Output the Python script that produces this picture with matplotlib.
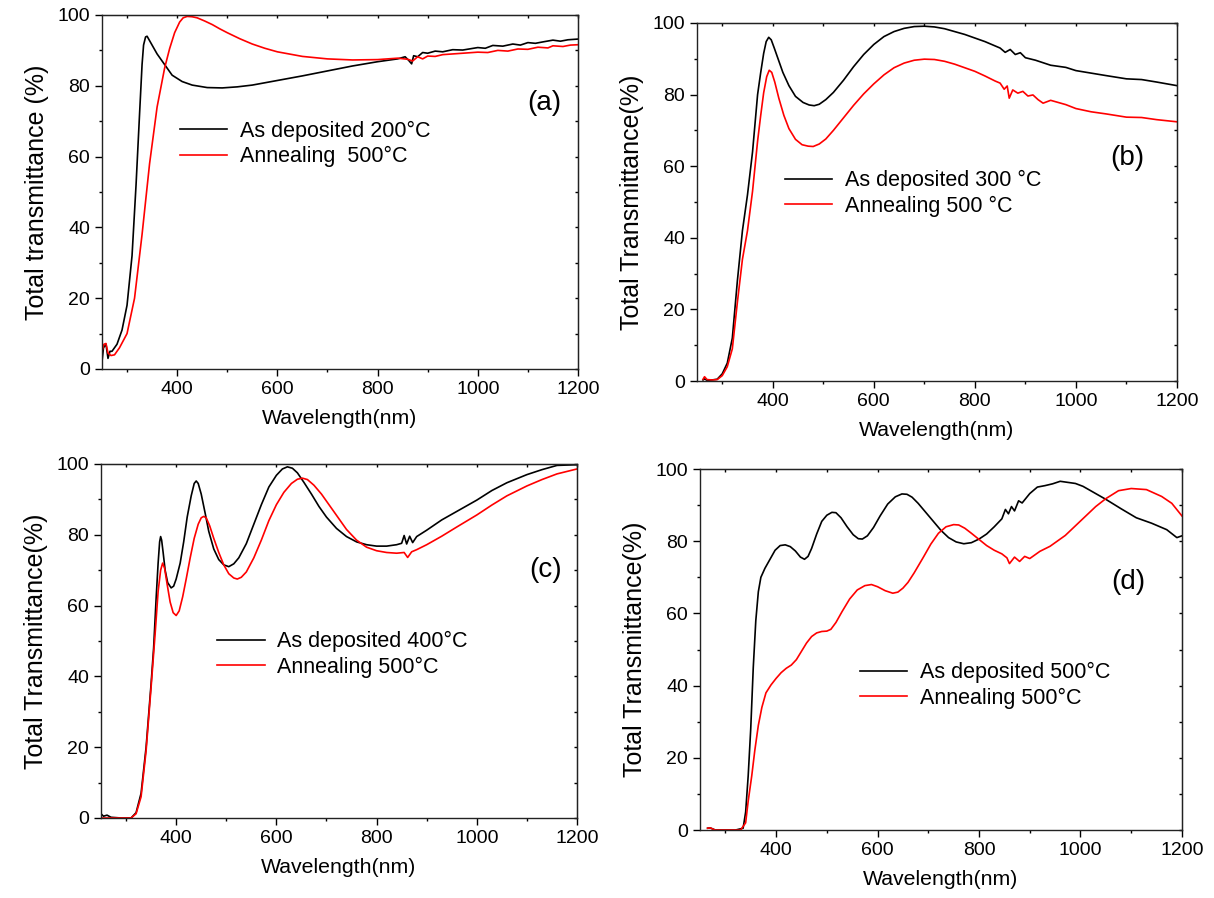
import matplotlib
matplotlib.use("Agg")
import matplotlib.pyplot as plt
from matplotlib.ticker import MultipleLocator

plt.rcParams['font.family'] = ['Liberation Sans', 'DejaVu Sans']

# ---- panel (a): as deposited 200 C / annealed 500 C ----
wl_a_dep = [250, 253, 258, 262, 266, 270, 280, 290, 300, 310, 318, 325, 330, 333, 337, 340,
            344, 350, 360, 375, 390, 410, 430, 460, 490, 520, 550, 600, 650, 700, 750, 800,
            840, 855, 862, 868, 872, 880, 890, 900, 915, 930, 950, 970, 1000, 1015, 1030,
            1050, 1070, 1085, 1100, 1115, 1130, 1150, 1165, 1180, 1200]
t_a_dep = [2, 6, 7, 3, 5, 5, 7, 11, 18, 32, 52, 72, 86, 91.5, 93.8, 94,
           93, 91.5, 89, 86, 83, 81.2, 80.2, 79.5, 79.4, 79.7, 80.2, 81.5, 82.8, 84.2, 85.6, 86.8,
           87.6, 88.2, 87.2, 86.2, 88.5, 88.2, 89.4, 89.2, 89.8, 89.6, 90.2, 90.1, 90.8, 90.6, 91.4,
           91.2, 91.8, 91.5, 92.2, 92.0, 92.4, 92.9, 92.6, 93.0, 93.2]
wl_a_ann = [250, 254, 258, 262, 268, 275, 285, 300, 315, 330, 345, 360, 375, 385, 395, 405,
            412, 420, 430, 440, 455, 470, 485, 500, 525, 550, 575, 600, 650, 700, 750, 800,
            840, 860, 870, 880, 890, 900, 915, 930, 960, 1000, 1020, 1040, 1060, 1080, 1100,
            1120, 1140, 1150, 1170, 1185, 1200]
t_a_ann = [5, 7, 7.2, 4.5, 3.8, 4, 6, 10, 20, 38, 58, 74, 85, 90.5, 95, 98,
           99.2, 99.6, 99.5, 99.2, 98.3, 97.3, 96.1, 95, 93.3, 91.8, 90.6, 89.6, 88.3, 87.6, 87.3, 87.4,
           87.8, 87.5, 87, 88.2, 87.6, 88.4, 88.3, 88.8, 89.1, 89.5, 89.4, 90, 89.8, 90.4, 90.3,
           90.9, 90.7, 91.3, 91.1, 91.5, 91.6]

# ---- panel (b): as deposited 300 C / annealed 500 C ----
wl_b_dep = [262, 265, 270, 280, 290, 300, 310, 320, 330, 340, 350, 360, 370, 376, 382, 387,
            392, 397, 403, 410, 420, 432, 445, 460, 472, 482, 492, 505, 520, 540, 560, 580,
            600, 620, 640, 660, 680, 700, 720, 740, 760, 780, 800, 820, 840, 850, 860,
            870, 880, 890, 900, 920, 950, 980, 1000, 1030, 1060, 1100, 1130, 1160, 1200]
t_b_dep = [0.3, 0.6, 0.2, 0.3, 0.5, 2, 5, 12, 28, 42, 52, 64, 80, 86, 91.5, 94.8,
           96, 95.3, 93, 90.2, 86.2, 82.5, 79.5, 77.8, 77.1, 76.9, 77.3, 78.6, 80.6, 84, 87.8, 91.2,
           94, 96.2, 97.6, 98.5, 99, 99.1, 98.9, 98.4, 97.6, 96.8, 95.8, 94.8, 93.6, 93, 91.8,
           92.6, 91.2, 91.7, 90.3, 89.6, 88.2, 87.6, 86.7, 86, 85.3, 84.4, 84.2, 83.5, 82.5]
wl_b_ann = [262, 265, 270, 280, 290, 300, 310, 320, 330, 340, 350, 360, 370, 376, 382, 388,
            393, 398, 404, 412, 422, 432, 445, 458, 470, 480, 492, 505, 520, 540, 560, 580,
            600, 620, 640, 660, 680, 700, 720, 740, 760, 780, 800, 820, 840, 850, 858,
            864, 868, 875, 885, 895, 905, 915, 925, 935, 950, 980, 1000, 1030, 1060, 1100,
            1130, 1160, 1200]
t_b_ann = [0.5, 1.2, 0.4, 0.3, 0.4, 1.5, 4, 9, 22, 34, 42, 53, 67, 74, 80.5, 85,
           86.8, 86.2, 83.5, 79, 74.2, 70.5, 67.5, 66, 65.6, 65.5, 66.2, 67.6, 70, 73.5, 77, 80.2,
           83, 85.5, 87.5, 88.8, 89.6, 89.9, 89.8, 89.3, 88.5, 87.5, 86.5, 85.2, 83.8, 83.2, 81.5,
           82.4, 79, 81.3, 80.4, 80.9, 79.6, 79.9, 78.6, 77.6, 78.4, 77.2, 76.1, 75.2, 74.6, 73.7,
           73.6, 73, 72.4]

# ---- panel (c): as deposited 400 C / annealed 500 C ----
wl_c_dep = [250, 255, 262, 270, 290, 310, 320, 330, 340, 350, 355, 360, 364, 367, 369, 371,
            374, 378, 383, 390, 395, 400, 408, 415, 422, 430, 436, 440, 444, 450, 458, 465,
            475, 485, 495, 505, 515, 525, 540, 555, 570, 585, 600, 612, 622, 632, 642, 655,
            670, 685, 700, 720, 740, 760, 780, 800, 820, 840, 850, 855, 860, 866, 872, 880,
            900, 930, 960, 1000, 1030, 1060, 1100, 1130, 1160, 1200]
t_c_dep = [1.2, 0.5, 0.8, 0.2, 0, 0, 1.5, 7, 20, 38, 48, 62, 72, 78, 79.5, 78.5,
           75, 70, 66.5, 65, 65.5, 67.5, 72, 78, 85, 91, 94.5, 95.2, 94.5, 91.5, 86, 81,
           76, 73, 71.5, 71, 71.8, 73.5, 77.5, 83, 88.5, 93.5, 96.8, 98.6, 99.2, 98.8, 97.5, 94.8,
           91.5, 88, 85, 81.8, 79.5, 78, 77.2, 76.8, 76.8, 77.2, 77.6, 79.8, 77.4, 79.6, 77.8, 79.5,
           81.3, 84.2, 86.6, 89.8, 92.5, 94.7, 97, 98.4, 99.6, 99.8]
wl_c_ann = [250, 270, 290, 310, 320, 330, 340, 350, 358, 364, 369, 373, 377, 382, 388, 394,
            400, 406, 413, 420, 428, 436, 444, 450, 455, 460, 467, 475, 485, 495, 505, 515,
            522, 530, 540, 555, 570, 585, 600, 615, 630, 642, 652, 662, 675, 690, 705, 720,
            740, 760, 780, 800, 820, 840, 855, 862, 870, 880, 900, 930, 960, 1000, 1030, 1060,
            1100, 1130, 1160, 1200]
t_c_ann = [0, 0, 0, 0, 1.2, 6, 19, 37, 52, 64, 70, 72, 70.5, 66, 61, 58,
           57.2, 58.5, 62.5, 67.5, 73.5, 79, 83, 84.8, 85.2, 84.8, 82.5, 79, 75, 71.5, 69, 67.8,
           67.5, 68, 69.5, 73.5, 78.5, 84, 88.5, 92, 94.5, 95.7, 96, 95.6, 94, 91.5, 88.5, 85.5,
           81.5, 78.5, 76.5, 75.5, 75, 74.8, 75, 73.6, 75.2, 75.8, 77.2, 79.6, 82.2, 85.6, 88.4, 91,
           93.8, 95.6, 97.2, 98.6]

# ---- panel (d): as deposited 500 C / annealed 500 C ----
wl_d_dep = [265, 270, 280, 300, 320, 335, 340, 345, 350, 355, 360, 365, 370, 378, 388, 398,
            408, 418, 428, 438, 448, 456, 463, 470, 480, 490, 500, 510, 518, 528, 540, 552,
            562, 570, 580, 592, 605, 620, 635, 648, 658, 668, 680, 695, 710, 725, 740, 755,
            770, 785, 800, 815, 830, 845, 852, 858, 864, 870, 878, 885, 900, 915, 930, 945,
            960, 975, 990, 1005, 1020, 1050, 1080, 1110, 1140, 1170, 1190, 1200]
t_d_dep = [0.5, 0.6, 0, 0, 0, 0.5, 5, 15, 28, 45, 58, 66, 70, 72.5, 75, 77.5,
           78.8, 79, 78.5, 77.3, 75.6, 75, 75.8, 78, 82, 85.5, 87.2, 88, 87.9, 86.5, 84, 81.8,
           80.7, 80.6, 81.5, 83.8, 87, 90.3, 92.3, 93.1, 93, 92.2, 90.5, 88, 85.5, 83, 81, 79.8,
           79.3, 79.6, 80.6, 82, 84, 86.2, 88.8, 87.6, 89.6, 88.4, 91.2, 90.6, 93.2, 95, 95.4, 95.9,
           96.6, 96.3, 96, 95.2, 94, 91.6, 89, 86.5, 85, 83.2, 81, 81.5]
wl_d_ann = [265, 270, 280, 300, 330, 340, 345, 352, 358, 365, 372, 380, 390, 400, 410, 420,
            430, 440, 450, 460, 470, 480, 490, 500, 508, 518, 530, 545, 560, 575, 588, 600,
            615, 630, 640, 650, 660, 672, 690, 705, 720, 735, 750, 760, 772, 785, 800, 815,
            830, 845, 855, 860, 870, 880, 890, 900, 920, 940, 970, 1000, 1030, 1050, 1075, 1100,
            1130, 1160, 1180, 1200]
t_d_ann = [0.5, 0.6, 0, 0, 0, 2, 8, 15, 22, 29, 34, 38, 40.2, 42, 43.6, 44.8,
           45.7, 47.2, 49.5, 51.8, 53.6, 54.6, 55, 55.1, 55.6, 57.5, 60.5, 64, 66.5, 67.7, 68, 67.4,
           66.3, 65.6, 65.9, 67, 68.6, 71.2, 75.5, 79.2, 82.2, 84, 84.6, 84.5, 83.6, 82.2, 80.5, 78.8,
           77.5, 76.5, 75.4, 73.8, 75.6, 74.4, 75.8, 75.2, 77.2, 78.6, 81.6, 85.6, 89.6, 91.8, 94, 94.6,
           94.3, 92.4, 90.5, 87]

panels = [
    dict(pos=[0.0840, 0.5891, 0.3921, 0.3942], dep=(wl_a_dep, t_a_dep), ann=(wl_a_ann, t_a_ann),
         labels=['As deposited 200°C', 'Annealing  500°C'], ylabel='Total transmittance (%)',
         leg=(0.164, 0.636), tag='(a)', tagpos=(0.93, 0.75)),
    dict(pos=[0.5741, 0.5757, 0.3954, 0.3987], dep=(wl_b_dep, t_b_dep), ann=(wl_b_ann, t_b_ann),
         labels=['As deposited 300 °C', 'Annealing 500 °C'], ylabel='Total Transmittance(%)',
         leg=(0.183, 0.524), tag='(b)', tagpos=(0.896, 0.623)),
    dict(pos=[0.0832, 0.0891, 0.3921, 0.3942], dep=(wl_c_dep, t_c_dep), ann=(wl_c_ann, t_c_ann),
         labels=['As deposited 400°C', 'Annealing 500°C'], ylabel='Total Transmittance(%)',
         leg=(0.244, 0.462), tag='(c)', tagpos=(0.933, 0.70)),
    dict(pos=[0.5766, 0.0757, 0.3970, 0.4020], dep=(wl_d_dep, t_d_dep), ann=(wl_d_ann, t_d_ann),
         labels=['As deposited 500°C', 'Annealing 500°C'], ylabel='Total Transmittance(%)',
         leg=(0.332, 0.40), tag='(d)', tagpos=(0.888, 0.687)),
]

fig = plt.figure(figsize=(12.14, 8.98), dpi=100)

for p in panels:
    ax = fig.add_axes(p['pos'])
    ax.plot(*p['dep'], color='black', lw=1.2, label=p['labels'][0])
    ax.plot(*p['ann'], color='#ff0000', lw=1.2, label=p['labels'][1])
    ax.set_xlim(250, 1200)
    ax.set_ylim(0, 100)
    ax.xaxis.set_major_locator(MultipleLocator(200))
    ax.xaxis.set_minor_locator(MultipleLocator(100))
    ax.yaxis.set_major_locator(MultipleLocator(20))
    ax.yaxis.set_minor_locator(MultipleLocator(10))
    ax.tick_params(which='major', direction='out', length=5, width=1, labelsize=14)
    ax.tick_params(which='minor', direction='out', length=2.5, width=1)
    for s in ax.spines.values():
        s.set_linewidth(1.0)
        s.set_color('#222222')

    # small inward ticks on top and right, Origin style
    top = ax.secondary_xaxis('top')
    top.xaxis.set_major_locator(MultipleLocator(100))
    top.tick_params(direction='in', length=2, width=1, labeltop=False)
    right = ax.secondary_yaxis('right')
    right.yaxis.set_major_locator(MultipleLocator(10))
    right.tick_params(direction='in', length=2, width=1, labelright=False)

    ax.set_xlabel('Wavelength(nm)', fontsize=15.3, labelpad=8)
    ax.set_ylabel(p['ylabel'], fontsize=18, labelpad=6)
    ax.legend(loc='center left', bbox_to_anchor=p['leg'], frameon=False, fontsize=15.5,
              handlelength=2.2, handletextpad=0.6, labelspacing=0.2,
              borderpad=0, borderaxespad=0)
    ax.text(*p['tagpos'], p['tag'], transform=ax.transAxes, fontsize=20,
            ha='center', va='center')

fig.savefig('out.png', dpi=100)
